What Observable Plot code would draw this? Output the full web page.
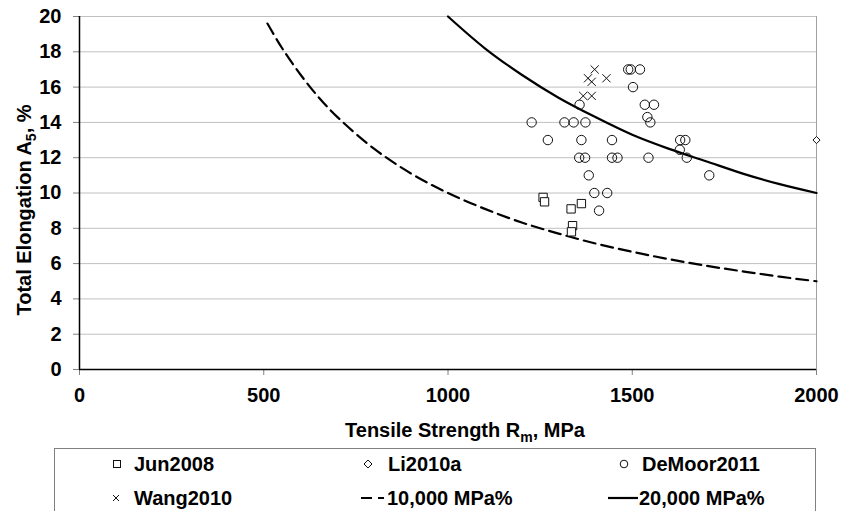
<!DOCTYPE html>
<html><head><meta charset="utf-8">
<script src="https://cdn.jsdelivr.net/npm/d3@7"></script>
<script src="https://cdn.jsdelivr.net/npm/@observablehq/plot@0.6"></script>
<style>
body{margin:0;background:#fff;overflow:hidden;font-family:"Liberation Sans",Arial,sans-serif;}
#wrap{position:relative;width:843px;height:511px;overflow:hidden;background:#fff;}
#wrap svg{display:block;}
[aria-label="x-axis tick"],[aria-label="y-axis tick"]{stroke:#808080;}
#legend{position:absolute;left:54px;top:448px;width:762px;height:90px;border:1px solid #808080;box-sizing:border-box;}
</style></head><body><div id="wrap"></div>
<script>
// Data: [tensile strength MPa, total elongation %]
const jun2008 = [[1258,9.75],[1262,9.5],[1334,9.1],[1362,9.4],[1338,8.15],[1335,7.8]];
const li2010a = [[2000,13]];
const deMoor2011 = [[1227,14],[1271,13],[1316,14],[1341,14],[1357,15],[1373,14],[1362,13],[1356,12],[1372,12],[1382,11],[1397,10],[1410,9],[1432,10],[1445,13],[1445,12],[1460,12],[1489,17],[1496,17],[1521,17],[1502,16],[1534,15],[1559,15],[1541,14.3],[1549,14],[1544,12],[1630,13],[1644,13],[1629,12.45],[1648,12],[1709,11]];
const wang2010 = [[1398,17],[1380,16.5],[1390,16.3],[1430,16.5],[1367,15.5],[1390,15.5]];
// Iso-product lines
const line10000 = [[510,19.6],[550,18.2],[600,16.7],[650,15.4],[700,14.3],[800,12.5],[900,11.1],[1000,10],[1100,9.1],[1200,8.33],[1300,7.7],[1400,7.14],[1500,6.67],[1600,6.25],[1700,5.88],[1800,5.56],[1900,5.26],[2000,5]];
const line20000 = [[1000,20],[1100,18.2],[1200,16.7],[1300,15.4],[1400,14.3],[1500,13.3],[1600,12.5],[1700,11.8],[1800,11.1],[1900,10.5],[2000,10]];
const xTicks = [0,500,1000,1500,2000];
const yTicks = [0,2,4,6,8,10,12,14,16,18,20];
const seriesNames = ["Jun2008","Li2010a","DeMoor2011","Wang2010","-10,000 MPa%","20,000 MPa%"];

const X = d => d[0], Y = d => d[1];
const font = "Liberation Sans, Arial, sans-serif";

const chart = Plot.plot({
  width: 843, height: 446,
  marginLeft: 79, marginRight: 27, marginTop: 16, marginBottom: 77,
  style: {fontFamily: font, background: "white", overflow: "visible"},
  x: {domain: [0, 2000]},
  y: {domain: [0, 20]},
  marks: [
    Plot.gridY(yTicks.filter(d => d > 0), {stroke: "#c0c0c0", strokeOpacity: 1}),
    Plot.ruleX([2000], {stroke: "#a0a0a0", strokeWidth: 1}),
    Plot.axisX(xTicks, {tickSize: 6, tickPadding: 12, fontSize: 20, fontWeight: "bold", label: null, tickFormat: d => String(d)}),
    Plot.axisY(yTicks, {tickSize: 6, tickPadding: 12, fontSize: 20, fontWeight: "bold", label: null}),
    Plot.line(line10000, {x: X, y: Y, curve: "catmull-rom", stroke: "black", strokeWidth: 2.2, strokeDasharray: "12,6"}),
    Plot.line(line20000, {x: X, y: Y, curve: "catmull-rom", stroke: "black", strokeWidth: 2.2}),
    Plot.dot(deMoor2011, {x: X, y: Y, symbol: "circle", r: 4.7, stroke: "#111", fill: "none", strokeWidth: 1}),
    Plot.dot(jun2008, {x: X, y: Y, symbol: "square", r: 4.7, stroke: "#111", fill: "white", strokeWidth: 1}),
    Plot.dot(wang2010, {x: X, y: Y, symbol: "times", r: 3.8, stroke: "#111", strokeWidth: 1}),
    Plot.dot(li2010a, {x: X, y: Y, symbol: "diamond2", r: 3.2, stroke: "#111", fill: "white", strokeWidth: 1}),
    Plot.ruleY([0], {stroke: "black", strokeWidth: 1.5}),
    Plot.ruleX([0], {stroke: "black", strokeWidth: 1.5})
  ]
});

const wrap = document.getElementById("wrap");
wrap.appendChild(chart);

// Axis titles with subscripts
const svg = d3.select(chart);
const xt = svg.append("text").attr("x", 465).attr("y", 437).attr("text-anchor", "middle")
  .attr("font-family", font).attr("font-size", 20).attr("font-weight", "bold").attr("fill", "black");
xt.append("tspan").text("Tensile Strength R");
xt.append("tspan").attr("font-size", 14).attr("dy", 5).text("m");
xt.append("tspan").attr("dy", -5).text(", MPa");

const yt = svg.append("text").attr("transform", "translate(31,210) rotate(-90)").attr("text-anchor", "middle")
  .attr("font-family", font).attr("font-size", 20).attr("font-weight", "bold").attr("fill", "black");
yt.append("tspan").text("Total Elongation A");
yt.append("tspan").attr("font-size", 14).attr("dy", 5).text("5");
yt.append("tspan").attr("dy", -5).text(", %");

// Legend below the chart
const leg = document.createElement("div");
leg.id = "legend";
wrap.appendChild(leg);
const ls = d3.select(leg).append("svg").attr("width", 762).attr("height", 90)
  .style("position", "absolute").style("left", "-1px").style("top", "-1px");
const ox = 54, oy = 448;
const items = [
  {name: seriesNames[0], kind: "square", mx: 117, tx: 134, row: 0},
  {name: seriesNames[1], kind: "diamond", mx: 368, tx: 388, row: 0},
  {name: seriesNames[2], kind: "circle", mx: 624, tx: 642, row: 0},
  {name: seriesNames[3], kind: "times", mx: 116, tx: 134, row: 1},
  {name: seriesNames[4].replace(/^-/, ""), kind: "dash", mx: 361, tx: 387, row: 1},
  {name: seriesNames[5], kind: "solid", mx: 608, tx: 639, row: 1}
];
const rowC = [464, 498];
for (const it of items) {
  const cy = rowC[it.row] - oy, cx = it.mx - ox;
  if (it.kind === "square") ls.append("rect").attr("x", cx - 3.5).attr("y", cy - 3.5).attr("width", 7).attr("height", 7).attr("fill", "white").attr("stroke", "#111");
  if (it.kind === "circle") ls.append("circle").attr("cx", cx).attr("cy", cy).attr("r", 3.8).attr("fill", "none").attr("stroke", "#111");
  if (it.kind === "diamond") ls.append("path").attr("d", `M${cx},${cy-4}L${cx+4},${cy}L${cx},${cy+4}L${cx-4},${cy}Z`).attr("fill", "white").attr("stroke", "#111");
  if (it.kind === "times") ls.append("path").attr("d", `M${cx-3},${cy-3}L${cx+3},${cy+3}M${cx-3},${cy+3}L${cx+3},${cy-3}`).attr("stroke", "#111");
  if (it.kind === "dash") ls.append("line").attr("x1", cx).attr("x2", cx + 23).attr("y1", cy).attr("y2", cy).attr("stroke", "black").attr("stroke-width", 2.2).attr("stroke-dasharray", "11,6");
  if (it.kind === "solid") ls.append("line").attr("x1", cx).attr("x2", cx + 30).attr("y1", cy).attr("y2", cy).attr("stroke", "black").attr("stroke-width", 2.2);
  ls.append("text").attr("x", it.tx - ox).attr("y", cy + 7).attr("font-family", font).attr("font-size", 20)
    .attr("font-weight", "bold").attr("fill", "black").text(it.name);
}
</script></body></html>
